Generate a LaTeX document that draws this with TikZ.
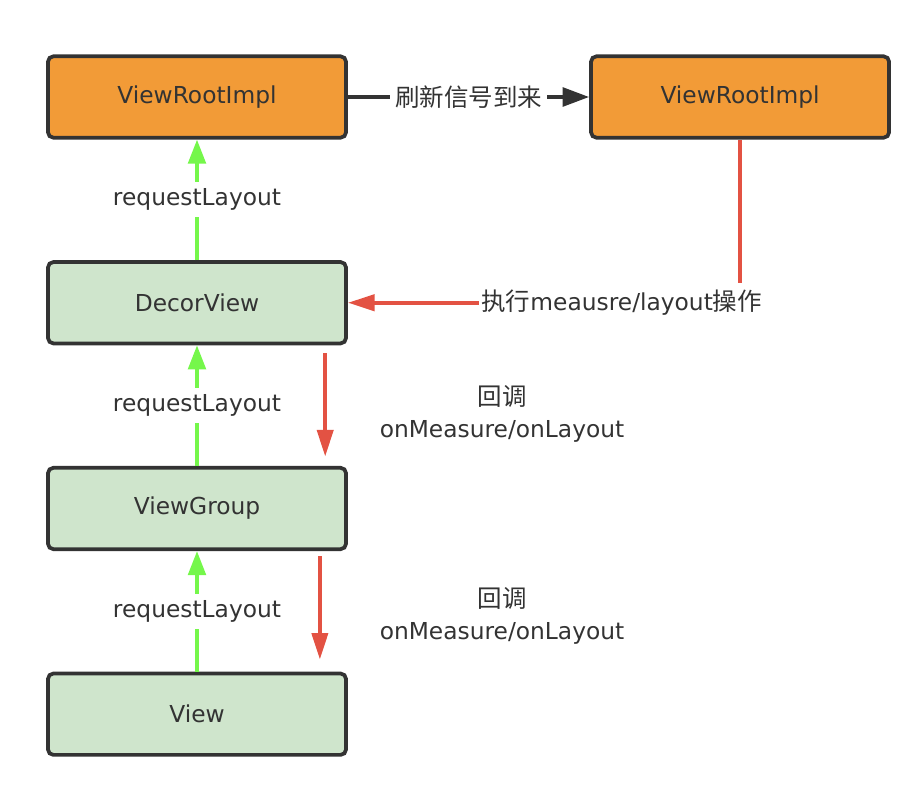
\documentclass[tikz,border=0pt]{standalone}
\usepackage{fontspec}
\setmainfont{DejaVu Sans}
\newfontfamily\cjk[Scale=1.05]{Noto Sans CJK SC}
\usepackage{xcolor}
\usetikzlibrary{arrows.meta, positioning}

\definecolor{boxline}{HTML}{333333}
\definecolor{rootfill}{HTML}{F29B37}
\definecolor{viewfill}{HTML}{CFE5CC}
\definecolor{reqgreen}{HTML}{75F74B}
\definecolor{callred}{HTML}{E35243}

\begin{document}
\begin{tikzpicture}[
  x=0.75pt, y=-0.75pt,
  node distance=90.5pt and 181pt,
  font=\fontsize{17.5pt}{24pt}\selectfont,
  text=boxline,
  root/.style={draw=boxline, line width=2.8pt, rounded corners=4pt, align=center,
               minimum width=223.5pt, minimum height=61pt, fill=rootfill},
  view/.style={draw=boxline, line width=2.8pt, rounded corners=4pt, align=center,
               minimum width=223.5pt, minimum height=61pt, fill=viewfill},
  lbl/.style={fill=white, inner xsep=4pt, inner ysep=5pt},
  note/.style={align=center, inner sep=2pt},
  darr/.style={-{Triangle[length=20pt,width=14pt]}, line width=3pt, draw=boxline},
  garr/.style={-{Triangle[length=18pt,width=13pt]}, line width=3pt, draw=reqgreen},
  rarr/.style={-{Triangle[length=20pt,width=12pt]}, line width=3pt, draw=callred},
  rline/.style={line width=3pt, draw=callred}
]
\useasboundingbox (0,0) rectangle (914,800);

\node[root] (vri1) at (197,97) {ViewRootImpl};
\node[root, right=of vri1] (vri2) {ViewRootImpl};
\node[view, below=of vri1] (decor) {DecorView};
\node[view, below=of decor] (vgroup) {ViewGroup};
\node[view, below=of vgroup] (view) {View};

\node[lbl, inner xsep=2pt, right=98pt of decor] (exec) {{\cjk 执行}meausre/layout{\cjk 操作}};
\node[note] (cb1) at (502,414) {{\cjk 回调}\\onMeasure/onLayout};
\node[note] (cb2) at (502,616) {{\cjk 回调}\\onMeasure/onLayout};

\draw[darr] (vri1) -- node[lbl] {\cjk 刷新信号到来} (vri2);

\draw[garr] (decor)  -- node[lbl] {requestLayout} (vri1);
\draw[garr] (vgroup) -- node[lbl] {requestLayout} (decor);
\draw[garr] (view)   -- node[lbl] {requestLayout} (vgroup);

\draw[rline] (vri2.south) -- (vri2.south |- exec.north);
\draw[rarr]  (exec) -- (decor);
\draw[rarr]  ([xshift=-17pt,yshift=-6pt]decor.south east) -- ([xshift=-17pt,yshift=7pt]vgroup.north east);
\draw[rarr]  ([xshift=-21pt,yshift=-4pt]vgroup.south east) -- ([xshift=-21pt,yshift=9pt]view.north east);
\end{tikzpicture}
\end{document}
